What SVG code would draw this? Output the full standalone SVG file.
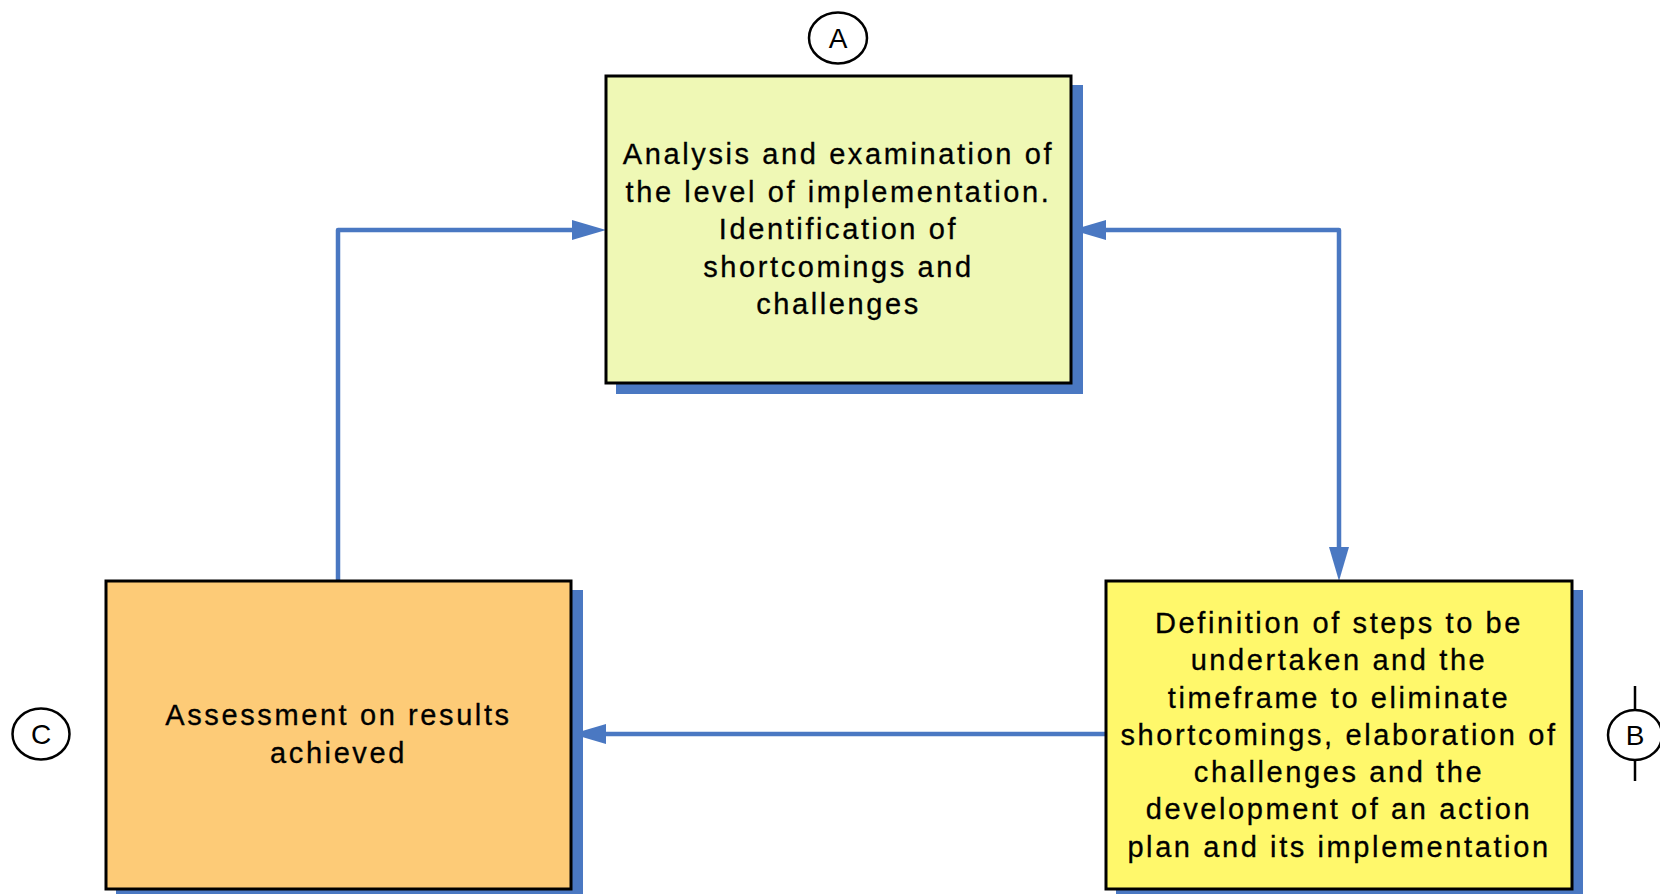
<svg xmlns="http://www.w3.org/2000/svg" width="1660" height="894" viewBox="0 0 1660 894">
<style>
.shadow{fill:#4a78c2}
.box{stroke:#000;stroke-width:3}
.t{font-family:"Liberation Sans",Arial,sans-serif;font-size:29px;letter-spacing:2.6px;fill:#000;text-anchor:middle;stroke:#000;stroke-width:0.3}
.lbl{font-family:"Liberation Sans",Arial,sans-serif;font-size:28px;fill:#000;text-anchor:middle}
.conn{fill:none;stroke:#4a78c2;stroke-width:4.5;stroke-linejoin:round}
.circ{fill:#fff;stroke:#000;stroke-width:2.5}
</style>
<defs>
<marker id="arr" viewBox="0 0 34 20" refX="0" refY="10" markerWidth="34" markerHeight="20" markerUnits="userSpaceOnUse" orient="auto-start-reverse">
<path d="M0,0 L34,10 L0,20 z" fill="#4a78c2"/>
</marker>
</defs>
<rect width="1660" height="894" fill="#fff"/>
<g id="connectors">
<path class="conn" d="M338,581 V230 H572" marker-end="url(#arr)"/>
<path class="conn" d="M1106,230 H1339 V547" marker-start="url(#arr)" marker-end="url(#arr)"/>
<path class="conn" d="M1106,734 H606" marker-end="url(#arr)"/>
</g>
<g id="nodeA">
<rect class="shadow" x="616" y="85" width="467" height="309"/>
<rect class="box" x="606" y="76" width="465" height="307" fill="#eff8b5"/>
<text class="t" x="838.5" y="164">Analysis and examination of</text>
<text class="t" x="838.5" y="201.5">the level of implementation.</text>
<text class="t" x="838.5" y="239">Identification of</text>
<text class="t" x="838.5" y="276.5">shortcomings and</text>
<text class="t" x="838.5" y="314">challenges</text>
</g>
<g id="nodeB">
<rect class="shadow" x="1116" y="590" width="467" height="310"/>
<rect class="box" x="1106" y="581" width="466" height="308" fill="#fff86b"/>
<text class="t" x="1339" y="632.5">Definition of steps to be</text>
<text class="t" x="1339" y="670">undertaken and the</text>
<text class="t" x="1339" y="707.5">timeframe to eliminate</text>
<text class="t" x="1339" y="744.5">shortcomings, elaboration of</text>
<text class="t" x="1339" y="781.5">challenges and the</text>
<text class="t" x="1339" y="819">development of an action</text>
<text class="t" x="1339" y="856.5">plan and its implementation</text>
</g>
<g id="nodeC">
<rect class="shadow" x="116" y="590" width="467" height="310"/>
<rect class="box" x="106" y="581" width="465" height="308" fill="#fdcb77"/>
<text class="t" x="338.5" y="725">Assessment on results</text>
<text class="t" x="338.5" y="763">achieved</text>
</g>
<g id="labelA">
<ellipse class="circ" cx="838" cy="38" rx="29" ry="25.5"/>
<text class="lbl" x="838" y="47.5">A</text>
</g>
<g id="labelB">
<line x1="1635" y1="686" x2="1635" y2="710" stroke="#000" stroke-width="2.5"/>
<line x1="1635" y1="760" x2="1635" y2="781" stroke="#000" stroke-width="2.5"/>
<ellipse class="circ" cx="1635" cy="735" rx="27" ry="25"/>
<text class="lbl" x="1635" y="745">B</text>
</g>
<g id="labelC">
<ellipse class="circ" cx="41" cy="734" rx="28.5" ry="25.5"/>
<text class="lbl" x="41" y="744">C</text>
</g>
</svg>
